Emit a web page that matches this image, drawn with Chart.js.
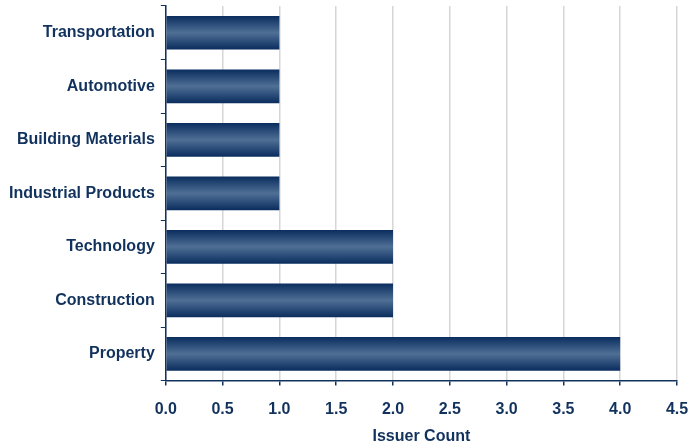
<!DOCTYPE html>
<html>
<head>
<meta charset="utf-8">
<script src="https://cdn.jsdelivr.net/npm/chart.js@4"></script>
<style>
  html, body { margin: 0; padding: 0; background: #fff; }
  #wrap { width: 690px; height: 448px; }
</style>
</head>
<body>
<div id="wrap"><canvas id="issuerChart"></canvas></div>
<script>
var categories = ['Transportation', 'Automotive', 'Building Materials', 'Industrial Products', 'Technology', 'Construction', 'Property'];
var issuerCounts = [1, 1, 1, 1, 2, 2, 4];
var xTicks = [0, 0.5, 1, 1.5, 2, 2.5, 3, 3.5, 4, 4.5];

var navy = '#12325e';
var barPct = 0.63;
var labelFont = { family: 'Liberation Sans', size: 16, weight: 'bold' };

function barGradient(context) {
    var chart = context.chart;
    var yScale = chart.scales.y;
    if (!chart.chartArea || !yScale) return '#2c4a75';
    var yc = yScale.getPixelForValue(context.dataIndex);
    var half = (chart.chartArea.height / categories.length) * barPct / 2;
    var g = chart.ctx.createLinearGradient(0, yc - half, 0, yc + half);
    g.addColorStop(0, '#0a2d5e');
    g.addColorStop(0.5, '#4f6f95');
    g.addColorStop(1, '#0a2d5e');
    return g;
}

document.addEventListener("DOMContentLoaded", function() {
    var ctx = document.getElementById('issuerChart').getContext('2d');
    new Chart(ctx, {
        type: 'bar',
        data: {
            labels: categories,
            datasets: [{
                label: 'Issuer Count',
                data: issuerCounts,
                backgroundColor: barGradient,
                borderWidth: 0,
                barPercentage: barPct,
                categoryPercentage: 1.0
            }]
        },
        options: {
            indexAxis: 'y',
            responsive: true,
            maintainAspectRatio: false,
            animation: false,
            layout: { padding: { top: 6, right: 13, left: 3, bottom: 2 } },
            plugins: {
                legend: { display: false },
                tooltip: { enabled: false }
            },
            scales: {
                x: {
                    min: 0,
                    max: 4.5,
                    afterBuildTicks: function(axis) {
                        axis.ticks = xTicks.map(function(v) { return { value: v }; });
                    },
                    afterFit: function(scale) {
                        scale.paddingLeft = 0;
                        scale.paddingRight = 0;
                    },
                    grid: {
                        color: '#d6d6d6',
                        lineWidth: 1.5,
                        tickColor: navy,
                        tickLength: 5
                    },
                    border: { color: navy, width: 1.5 },
                    ticks: {
                        color: navy,
                        padding: 14,
                        font: labelFont,
                        callback: function(v) { return Number(v).toFixed(1); }
                    },
                    title: {
                        display: true,
                        text: 'Issuer Count',
                        color: navy,
                        padding: { top: -6, bottom: 0 },
                        font: labelFont
                    }
                },
                y: {
                    offset: true,
                    afterFit: function(scale) {
                        scale.paddingTop = 0;
                        scale.paddingBottom = 0;
                    },
                    grid: {
                        offset: true,
                        drawOnChartArea: false,
                        tickColor: navy,
                        tickLength: 5
                    },
                    border: { color: navy, width: 1.5 },
                    ticks: {
                        color: navy,
                        padding: 6,
                        font: labelFont
                    }
                }
            }
        }
    });
});
</script>
</body>
</html>
